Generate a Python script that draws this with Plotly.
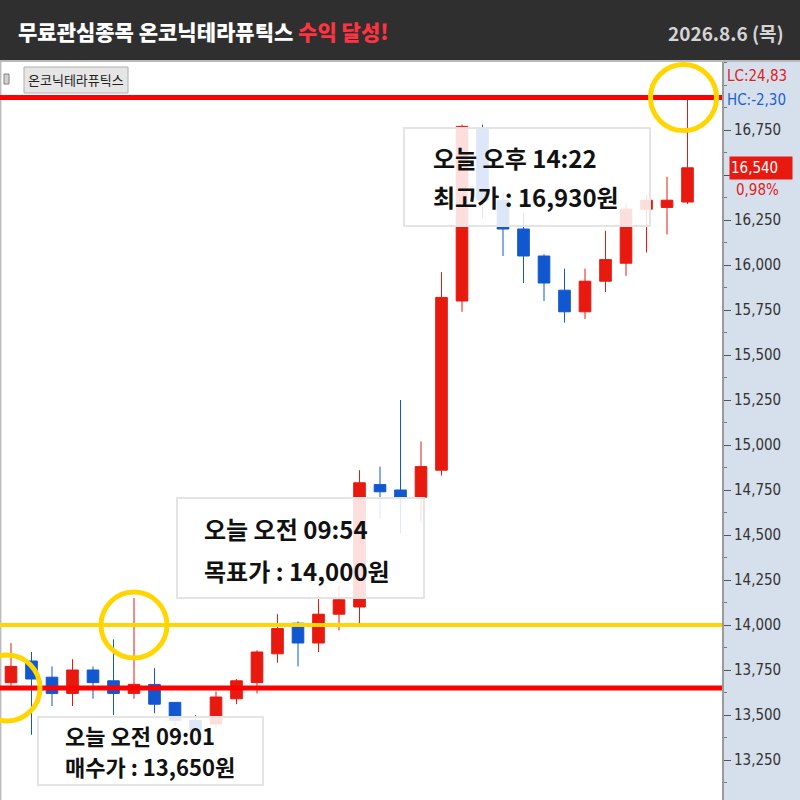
import plotly.graph_objects as go

W, H = 800, 800

# 10-minute bars, 09:00 onward (index on the x axis)
bars = list(range(34))
opens  = [13680, 13800, 13710, 13620, 13750, 13690, 13620, 13670, 13570, 13470,
          13450, 13590, 13680, 13840, 14010, 13900, 14060, 14100, 14780, 14750,
          14710, 14860, 15800, 16760, 16360, 16200, 16050, 15860, 15740, 15910,
          16010, 16310, 16320, 16350]
highs  = [13900, 13850, 13770, 13810, 13770, 13920, 14150, 13760, 13570, 13500,
          13630, 13700, 13860, 14060, 14020, 14160, 14220, 14860, 14880, 15250,
          15020, 15960, 16780, 16780, 16400, 16290, 16060, 15980, 15980, 16190,
          16340, 16390, 16490, 16930]
lows   = [13660, 13390, 13550, 13550, 13590, 13500, 13590, 13510, 13440, 13380,
          13430, 13560, 13620, 13790, 13770, 13850, 13970, 14000, 14590, 14510,
          14570, 14830, 15740, 16260, 16050, 15900, 15800, 15680, 15700, 15850,
          15940, 16070, 16170, 16340]
closes = [13770, 13700, 13620, 13750, 13680, 13620, 13670, 13560, 13470, 13420,
          13600, 13690, 13850, 13980, 13900, 14060, 14140, 14790, 14740, 14710,
          14880, 15820, 16770, 16360, 16200, 16050, 15900, 15740, 15910, 16030,
          16310, 16360, 16360, 16540]

buy_price, target_price, top_price, last_price = 13650, 14000, 16930, 16540
buy_bar, target_bar, top_bar = 0, 6, 33
change_pct = '0,98%'
lc_text, hc_text = 'LC:24,83', 'HC:-2,30'
tick_vals = list(range(13250, 16751, 250))

stock = '온코닉테라퓨틱스'
title_main = '무료관심종목 ' + stock + ' '
title_red = '수익 달성!'
date_text = '2026.8.6 (목)'
notes = [  # (line1, line2, box px [x0, y0, x1, y1], text x px, line y px, font size)
    ('오늘 오전 09:01', '매수가 : 13,650원', [38, 717, 263, 785], 63, [735, 766], 22),
    ('오늘 오전 09:54', '목표가 : 14,000원', [177, 498, 424, 598], 202, [528, 570], 24),
    ('오늘 오후 14:22', '최고가 : 16,930원', [404, 128, 650, 226], 431, [157, 196], 24),
]

RED, BLUE, YEL = '#e8190f', '#1158d0', '#ffd600'
KR = 'Noto Sans CJK KR'
NARROW = 'Liberation Sans Narrow, DejaVu Sans Condensed, Arial Narrow, sans-serif'

plot_right = 722
chart_top = 62
px_per_bar = 20.5
first_x = 11
won_per_px = 1 / 0.18
y_ref_px, y_ref_val = 625, 14000

def px(x):
    return x / W

def py(y):
    return 1 - y / H

x_lo = (0 - first_x) / px_per_bar
x_hi = (plot_right - first_x) / px_per_bar
y_lo = y_ref_val - (H - y_ref_px) * won_per_px
y_hi = y_ref_val + (y_ref_px - chart_top) * won_per_px

fig = go.Figure()
fig.add_trace(go.Candlestick(
    x=bars, open=opens, high=highs, low=lows, close=closes,
    increasing=dict(line=dict(color=RED, width=1), fillcolor=RED),
    decreasing=dict(line=dict(color=BLUE, width=1), fillcolor=BLUE),
    whiskerwidth=0, showlegend=False, hoverinfo='skip'))

shapes = [
    # header
    dict(type='rect', xref='paper', yref='paper', x0=0, x1=1, y0=py(60), y1=1,
         fillcolor='#2f2f2f', line_width=0, layer='below'),
    dict(type='line', xref='paper', yref='paper', x0=0, x1=1, y0=py(61), y1=py(61),
         line=dict(color='#b8b8b8', width=2)),
    # price axis panel
    dict(type='rect', xref='paper', yref='paper', x0=px(plot_right), x1=1, y0=0, y1=py(chart_top),
         fillcolor='#d6e0ed', line_width=0, layer='below'),
    dict(type='line', xref='paper', yref='paper', x0=0.001, x1=0.001, y0=0, y1=py(chart_top),
         line=dict(color='#a0a0a0', width=1)),
]
for price, col, wdt in [(top_price, '#ff0000', 5), (target_price, YEL, 4), (buy_price, '#ff0000', 5)]:
    shapes.append(dict(type='line', xref='paper', yref='y', x0=0, x1=px(plot_right),
                       y0=price, y1=price, line=dict(color=col, width=wdt)))
for bar, price, dx in [(buy_bar, buy_price, -4), (target_bar, target_price, 0), (top_bar, top_price, -4)]:
    shapes.append(dict(type='circle', xref='x', yref='y', xsizemode='pixel', ysizemode='pixel',
                       xanchor=bar, yanchor=price, x0=dx - 33, x1=dx + 33, y0=-33, y1=33,
                       line=dict(color=YEL, width=5)))
for _, _, (bx0, by0, bx1, by1), _, _, _ in notes:
    shapes.append(dict(type='rect', xref='paper', yref='paper', x0=px(bx0), x1=px(bx1),
                       y0=py(by1), y1=py(by0), fillcolor='rgba(255,255,255,0.86)',
                       line=dict(color='#e4e4e4', width=2)))
# stock name tag
shapes.append(dict(type='rect', xref='paper', yref='paper', x0=px(24), x1=px(128), y0=py(93), y1=py(67),
                   fillcolor='#e6e6e6', line=dict(color='#b0b0b0', width=1)))
shapes.append(dict(type='rect', xref='paper', yref='paper', x0=px(4), x1=px(9), y0=py(84), y1=py(74),
                   fillcolor='#d0d0d0', line=dict(color='#808080', width=1)))

ann = [
    dict(x=px(16), y=py(31), xref='paper', yref='paper', xanchor='left', yanchor='middle',
         text=title_main + '<span style="color:#ff3341">' + title_red + '</span>',
         showarrow=False, font=dict(family=KR, size=21, color='white', weight=900)),
    dict(x=px(786), y=py(32), xref='paper', yref='paper', xanchor='right', yanchor='middle',
         text=date_text, showarrow=False, font=dict(family=KR, size=19, color='#d4d4d4', weight=700)),
    dict(x=px(76), y=py(80), xref='paper', yref='paper', xanchor='center', yanchor='middle',
         text=stock, showarrow=False, font=dict(family=KR, size=13, color='#222222')),
    dict(x=px(725), y=py(76), xref='paper', yref='paper', xanchor='left', yanchor='middle',
         text=lc_text, showarrow=False, font=dict(family=NARROW, size=15, color='#e02020')),
    dict(x=px(725), y=py(100), xref='paper', yref='paper', xanchor='left', yanchor='middle',
         text=hc_text, showarrow=False, font=dict(family=NARROW, size=15, color='#1a5fd6')),
    dict(x=px(729), y=last_price, xref='paper', yref='y', xanchor='left', yanchor='middle',
         text=f'{last_price:,}', showarrow=False, bgcolor=RED, width=60, height=20, align='left',
         font=dict(family=NARROW, size=15, color='white')),
    dict(x=px(734), y=last_price, xref='paper', yref='y', xanchor='left', yanchor='middle',
         yshift=-22, text=change_pct, showarrow=False, font=dict(family=NARROW, size=15, color='#e02020')),
]
for l1, l2, _, tx, (ly1, ly2), fs in notes:
    for txt, ly in [(l1, ly1), (l2, ly2)]:
        ann.append(dict(x=px(tx), y=py(ly), xref='paper', yref='paper', xanchor='left', yanchor='middle',
                        text=txt, showarrow=False, font=dict(family=KR, size=fs, color='#111111', weight=700)))

# the tick label under the current-price tag is hidden
tick_text = ['' if abs(v - last_price) < 125 else f'{v:,}' for v in tick_vals]

fig.update_layout(
    width=W, height=H, margin=dict(l=0, r=0, t=0, b=0),
    paper_bgcolor='white', plot_bgcolor='white', boxgap=0.19,
    xaxis=dict(domain=[0, px(plot_right)], range=[x_lo, x_hi], visible=False,
               rangeslider=dict(visible=False), fixedrange=True),
    yaxis=dict(domain=[0, py(chart_top)], range=[y_lo, y_hi], side='right',
               tickmode='array', tickvals=tick_vals, ticktext=tick_text,
               ticks='outside', ticklen=7, tickcolor='#555555', showgrid=False, zeroline=False,
               showline=True, linecolor='#9a9a9a', linewidth=2,
               minor=dict(ticks='outside', ticklen=3, tickcolor='#777777', dtick=125, tick0=13125),
               tickfont=dict(family=NARROW, size=15, color='#333333')),
    shapes=shapes, annotations=ann, showlegend=False,
)

fig.write_html('out.html', config={'displayModeBar': False},
               post_script="document.body.style.margin='0';")
